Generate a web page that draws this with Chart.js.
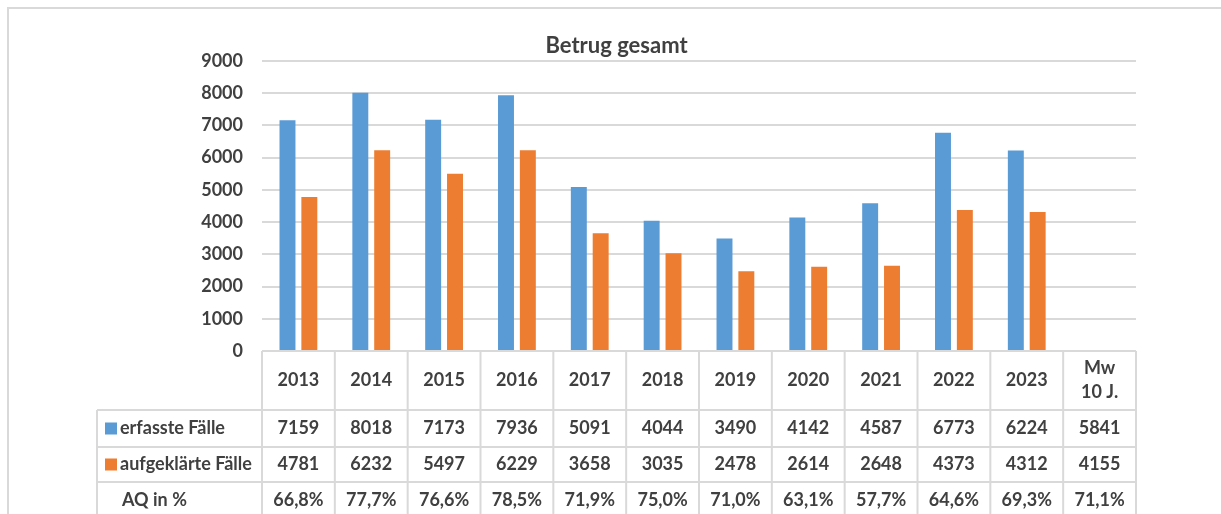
<!DOCTYPE html>
<html>
<head>
<meta charset="utf-8">
<script src="https://cdn.jsdelivr.net/npm/chart.js@4/dist/chart.umd.min.js"></script>
<style>
  html, body { margin: 0; padding: 0; background: #fff; }
  #wrap { width: 1221px; height: 514px; position: relative; }
</style>
</head>
<body>
<div id="wrap"><canvas id="chart"></canvas></div>
<script>
// Betrug gesamt – erfasste / aufgeklärte Fälle 2013–2023 plus 10-Jahres-Mittel
const categories = ['2013', '2014', '2015', '2016', '2017', '2018', '2019', '2020', '2021', '2022', '2023', ['Mw', '10 J.']];
const erfasst = [7159, 8018, 7173, 7936, 5091, 4044, 3490, 4142, 4587, 6773, 6224, 5841];
const aufgeklaert = [4781, 6232, 5497, 6229, 3658, 3035, 2478, 2614, 2648, 4373, 4312, 4155];
const aqLabels = ['66,8%', '77,7%', '76,6%', '78,5%', '71,9%', '75,0%', '71,0%', '63,1%', '57,7%', '64,6%', '69,3%', '71,1%'];
const seriesNames = ['erfasste Fälle', 'aufgeklärte Fälle', 'AQ in %'];
const yTicks = [0, 1000, 2000, 3000, 4000, 5000, 6000, 7000, 8000, 9000];

// the mean column has values in the table only, no bars
const barCount = 11;

const BLUE = '#5b9bd5';
const ORANGE = '#ed7d31';
const GRID = '#d9d9d9';
const TEXT = '#404040';
const FONT = 'Lato, "Open Sans", sans-serif';
const FONT_SIZE = 18;

// frame around the whole graphic (only left and top edges are visible)
const framePlugin = {
  id: 'frame',
  beforeDraw(chart) {
    const ctx = chart.ctx;
    ctx.save();
    ctx.strokeStyle = GRID;
    ctx.lineWidth = 2;
    ctx.beginPath();
    ctx.moveTo(8, chart.height + 2);
    ctx.lineTo(8, 8);
    ctx.lineTo(chart.width + 2, 8);
    ctx.stroke();
    ctx.restore();
  },
};

// title centred over plot + legend column
const titlePlugin = {
  id: 'ownTitle',
  afterDraw(chart) {
    const ctx = chart.ctx;
    const x = chart.scales.x;
    const left = 97;
    ctx.save();
    ctx.fillStyle = TEXT;
    ctx.font = 'bold 22px ' + FONT;
    ctx.textAlign = 'center';
    ctx.textBaseline = 'middle';
    ctx.fillText('Betrug gesamt', (left + x.right) / 2, 46);
    ctx.restore();
  },
};

// data table below the bars, columns follow the x scale
const tablePlugin = {
  id: 'dataTable',
  afterDraw(chart) {
    const ctx = chart.ctx;
    const x = chart.scales.x;
    const top = chart.chartArea.bottom;
    const colW = (x.right - x.left) / categories.length;
    const legendLeft = 97;
    const rows = [top, 410, 447, 482, 518];
    const bottom = chart.height + 4;

    ctx.save();
    ctx.strokeStyle = GRID;
    ctx.lineWidth = 2;
    ctx.beginPath();
    // vertical column lines
    for (let i = 0; i <= categories.length; i++) {
      const px = x.left + i * colW;
      ctx.moveTo(px, top);
      ctx.lineTo(px, bottom);
    }
    ctx.moveTo(legendLeft, rows[1]);
    ctx.lineTo(legendLeft, bottom);
    // horizontal row lines
    for (let r = 1; r < rows.length; r++) {
      ctx.moveTo(legendLeft, rows[r]);
      ctx.lineTo(x.right, rows[r]);
    }
    ctx.stroke();

    ctx.fillStyle = TEXT;
    ctx.font = 'bold ' + FONT_SIZE + 'px ' + FONT;
    ctx.textAlign = 'center';
    ctx.textBaseline = 'middle';

    // header row with category labels
    categories.forEach((c, i) => {
      const cx = x.getPixelForValue(i);
      const mid = (rows[0] + rows[1]) / 2;
      if (Array.isArray(c)) {
        ctx.fillText(c[0], cx, mid - 12);
        ctx.fillText(c[1], cx, mid + 12);
      } else {
        ctx.fillText(c, cx, mid);
      }
    });

    const rowValues = [erfasst, aufgeklaert, aqLabels];
    const markers = [BLUE, ORANGE, null];
    rowValues.forEach((vals, r) => {
      const mid = (rows[r + 1] + rows[r + 2]) / 2;
      vals.forEach((v, i) => {
        ctx.fillText(String(v), x.getPixelForValue(i), mid);
      });
      // legend cell
      if (markers[r]) {
        ctx.fillStyle = markers[r];
        ctx.fillRect(105, mid - 6, 12, 12);
        ctx.fillStyle = TEXT;
      }
      ctx.textAlign = 'left';
      ctx.fillText(seriesNames[r], markers[r] ? 120 : 122, mid);
      ctx.textAlign = 'center';
    });
    ctx.restore();
  },
};

new Chart(document.getElementById('chart'), {
  type: 'bar',
  data: {
    labels: categories,
    datasets: [
      {
        label: seriesNames[0],
        data: erfasst.slice(0, barCount),
        backgroundColor: BLUE,
        categoryPercentage: 0.6,
        barPercentage: 0.73,
      },
      {
        label: seriesNames[1],
        data: aufgeklaert.slice(0, barCount),
        backgroundColor: ORANGE,
        categoryPercentage: 0.6,
        barPercentage: 0.73,
      },
    ],
  },
  options: {
    responsive: true,
    maintainAspectRatio: false,
    animation: false,
    layout: { padding: { left: 97, right: 85, top: 61, bottom: 163 } },
    plugins: {
      legend: { display: false },
      title: { display: false },
      tooltip: { enabled: false },
    },
    scales: {
      x: { display: false },
      y: {
        min: yTicks[0],
        max: yTicks[yTicks.length - 1],
        afterBuildTicks: (scale) => {
          scale.ticks = yTicks.map((v) => ({ value: v }));
        },
        afterFit: (scale) => {
          scale.width = 165;
        },
        border: { display: false },
        grid: { color: GRID, lineWidth: 2, drawTicks: false },
        ticks: {
          padding: 19,
          color: TEXT,
          font: { family: FONT, size: FONT_SIZE, weight: 'bold' },
          callback: (value) => String(value),
        },
      },
    },
  },
  plugins: [framePlugin, titlePlugin, tablePlugin],
});
</script>
</body>
</html>
